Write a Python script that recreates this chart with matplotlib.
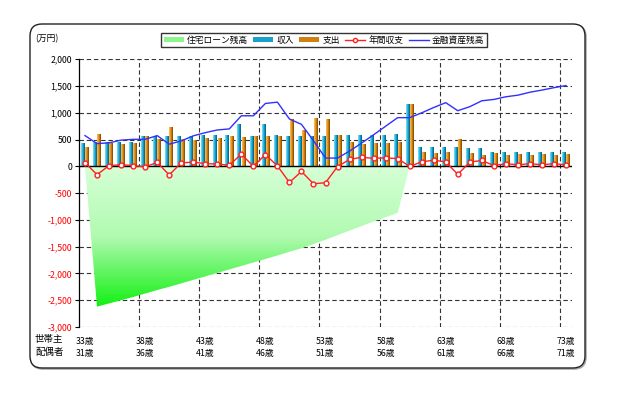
import numpy as np
import matplotlib.pyplot as plt
from matplotlib.colors import LinearSegmentedColormap
from matplotlib.patches import FancyBboxPatch, Polygon, Patch
from matplotlib.lines import Line2D

plt.rcParams['font.family'] = ['Noto Sans CJK JP', 'DejaVu Sans']

# ages shown on the category axis (every 5 years)
head_ages = [33, 38, 43, 48, 53, 58, 63, 68, 73]
spouse_ages = [31, 36, 41, 46, 51, 56, 61, 66, 71]

# yearly values (万円), age 33 .. 73 of the household head
income = [420, 440, 440, 440, 440, 550, 560, 560, 560, 560,
          570, 570, 575, 780, 560, 770, 570, 560, 560, 560,
          560, 570, 570, 575, 575, 575, 580, 1140, 340, 340,
          340, 340, 320, 320, 245, 245, 245, 245, 245, 245, 245]
expense = [345, 585, 420, 400, 420, 560, 490, 720, 490, 475,
           505, 520, 555, 530, 560, 545, 550, 860, 660, 890,
           870, 575, 440, 400, 425, 415, 440, 1140, 255, 225,
           255, 495, 240, 205, 230, 195, 215, 195, 215, 195, 215]
balance = [70, -155, 15, 30, 15, -10, 75, -160, 65, 80,
           50, 45, 20, 230, 0, 220, 10, -300, -95, -325,
           -305, -5, 130, 170, 150, 160, 145, 0, 85, 115,
           85, -150, 80, 110, 15, 50, 30, 50, 30, 50, 30]
assets = [575, 425, 440, 490, 505, 505, 575, 415, 475, 570,
          630, 680, 700, 945, 945, 1175, 1200, 885, 785, 480,
          155, 155, 285, 435, 590, 750, 910, 910, 1000, 1100,
          1190, 1040, 1115, 1225, 1250, 1300, 1330, 1385, 1425, 1470, 1510]
# housing loan balance, ends at age 60
loan = [0, -2620, -2560, -2500, -2440, -2375, -2310, -2250, -2185, -2120,
        -2055, -1990, -1925, -1860, -1795, -1730, -1665, -1595, -1530, -1450,
        -1370, -1285, -1200, -1115, -1030, -950, -870, 0]

W, H = 617, 395
fig = plt.figure(figsize=(W / 100, H / 100), dpi=100)

# frame with rounded corners, drawn in pixel units
bg = fig.add_axes([0, 0, 1, 1], zorder=0)
bg.set_xlim(0, W)
bg.set_ylim(H, 0)
bg.axis('off')
bg.add_patch(FancyBboxPatch((31, 25), 555, 344, boxstyle='round,pad=0,rounding_size=12',
                            facecolor='none', edgecolor='#aaaaaa', lw=1.2))
bg.add_patch(FancyBboxPatch((30, 24), 555, 344, boxstyle='round,pad=0,rounding_size=12',
                            facecolor='white', edgecolor='#222222', lw=1.0))

left, right, top, bottom = 79, 572, 59.3, 327
ax = fig.add_axes([left / W, 1 - bottom / H, (right - left) / W, (bottom - top) / H], zorder=1)
ax.set_facecolor('none')

x = np.arange(len(income))

# green gradient area for the loan
loan_x = np.arange(len(loan))
poly = Polygon(np.column_stack([loan_x, loan]), closed=True, facecolor='none', edgecolor='none')
ax.add_patch(poly)
green = LinearSegmentedColormap.from_list('g', ['#d6ffd6', '#b0fab0', '#10f010'])
im = ax.imshow(np.linspace(0, 1, 256).reshape(-1, 1), cmap=green, aspect='auto',
               extent=(-0.5, 40.5, -2650, 0), origin='upper', zorder=2)
im.set_clip_path(poly)

# gradient bars
blue_cm = LinearSegmentedColormap.from_list('b', ['#7fe4ff', '#19a9d6', '#005a78'])
orange_cm = LinearSegmentedColormap.from_list('o', ['#ffc060', '#e08a10', '#7a4600'])
bw = 0.3
grad = np.linspace(0, 1, 32).reshape(1, -1)
for i in x:
    ax.imshow(grad, cmap=blue_cm, aspect='auto', interpolation='bilinear',
              extent=(i - 0.17 - bw / 2, i - 0.17 + bw / 2, 0, income[i]), zorder=3)
    ax.imshow(grad, cmap=orange_cm, aspect='auto', interpolation='bilinear',
              extent=(i + 0.17 - bw / 2, i + 0.17 + bw / 2, 0, expense[i]), zorder=3)

ax.axhline(0, color='black', lw=1.0, zorder=4)
ax.plot(x, assets, color='#3030ff', lw=1.0, zorder=5)
ax.plot(x, balance, color='#ff2020', lw=1.0, marker='o', ms=3.5, mfc='white',
        mec='#ff2020', mew=1.0, zorder=6)

ax.set_xlim(-0.5, 40.5)
ax.set_ylim(-3000, 2000)

yt = list(range(-3000, 2001, 500))
ax.set_yticks(yt)
ax.set_yticklabels([f'{v:,}' for v in yt], fontsize=6.3)
for lab, v in zip(ax.get_yticklabels(), yt):
    lab.set_color('#ff0000' if v < 0 else 'black')
ax.tick_params(axis='y', length=3, width=0.8, pad=2)

ax.set_xticks(np.arange(0, 41, 5))
ax.set_xticklabels([f'{h}歳\n{s}歳' for h, s in zip(head_ages, spouse_ages)],
                   fontsize=6.3, linespacing=1.45)
ax.set_xticks(np.arange(4.5, 40, 5), minor=True)
ax.tick_params(axis='x', which='both', length=0, pad=7)

ax.grid(axis='y', which='major', color='#333333', ls=(0, (4, 2.5)), lw=0.8, zorder=1)
ax.grid(axis='x', which='minor', color='#333333', ls=(0, (4, 2.5)), lw=0.8, zorder=1)
for s in ['top', 'right', 'bottom']:
    ax.spines[s].set_visible(False)
ax.spines['left'].set_linewidth(0.9)

fig.text(35 / W, 1 - 39 / H, '(万円)', fontsize=6.3, va='center')
fig.text(35 / W, 1 - 339 / H, '世帯主', fontsize=6.8, va='center')
fig.text(35 / W, 1 - 352 / H, '配偶者', fontsize=6.8, va='center')

handles = [Patch(facecolor='#8cf58c', edgecolor='none'),
           Patch(facecolor='#1aa0cc', edgecolor='none'),
           Patch(facecolor='#d08010', edgecolor='none'),
           Line2D([], [], color='#ff2020', lw=1, marker='o', ms=3, mfc='white', mec='#ff2020'),
           Line2D([], [], color='#3030ff', lw=1)]
labels = ['住宅ローン残高', '収入', '支出', '年間収支', '金融資産残高']
leg = fig.legend(handles, labels, loc='center', bbox_to_anchor=(324 / W, 1 - 40 / H), ncol=5,
                 fontsize=6.3, frameon=True, fancybox=False, handlelength=2.3, handleheight=0.6,
                 columnspacing=0.6, handletextpad=0.35, borderpad=0.3)
leg.get_frame().set_edgecolor('black')
leg.get_frame().set_linewidth(1.0)
leg.set_zorder(3)

fig.savefig('out.png', dpi=100)
